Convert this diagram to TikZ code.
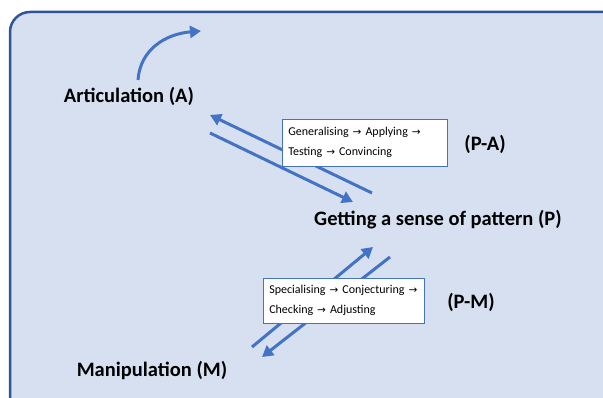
\documentclass[tikz,border=0pt]{standalone}
\usepackage{fontspec}
\setmainfont{Carlito}
\newfontfamily\arrowfont{DejaVu Sans}
\usetikzlibrary{arrows.meta}

\definecolor{panelfill}{HTML}{D6E0F1}
\definecolor{paneledge}{HTML}{2F5597}
\definecolor{flowblue}{HTML}{4472C4}
\newcommand{\nextstep}{{\arrowfont\fontsize{10.5}{20}\selectfont\char"2192}}

\begin{document}
\begin{tikzpicture}[x=1pt,y=-1pt,
    phase/.style={font=\fontsize{20.5}{24}\selectfont\bfseries,inner sep=0pt},
    stepbox/.style={draw=flowblue,line width=0.6pt,fill=white,anchor=north west,
        align=left,inner xsep=6pt,inner ysep=0pt,font=\fontsize{12}{20}\selectfont},
    flow/.style={draw=flowblue,line width=3pt,-{Triangle[length=11pt,width=12pt]}}]
    \useasboundingbox (0,0) rectangle (603,398);
    \clip (0,0) rectangle (603,398);
    \draw[fill=panelfill,draw=paneledge,line width=2.5pt,rounded corners=20pt] (10,12) rectangle (640,440);

    \node[phase] (art) at (129,96) {Articulation (A)};
    \node[phase] (pat) at (438,220) {Getting a sense of pattern (P)};
    \node[phase] (man) at (152,371) {Manipulation (M)};
    \node[phase] (pa) at (485,144) {(P-A)};
    \node[phase] (pm) at (471,302) {(P-M)};

    \coordinate (a1) at (372,193);
    \coordinate (a2) at (210,115);
    \coordinate (a3) at (210,133);
    \coordinate (a4) at (353,202);
    \coordinate (m1) at (252,347);
    \coordinate (m2) at (373,247);
    \coordinate (m3) at (390,257);
    \coordinate (m4) at (262,357);
    \coordinate (c1) at (138,80);
    \coordinate (c2) at (201,31);

    \draw[flow] (a1) -- (a2);
    \draw[flow] (a3) -- (a4);
    \draw[flow] (m1) -- (m2);
    \draw[flow] (m3) -- (m4);
    \draw[flow] (c1) .. controls (140,50) and (165,34) .. (c2);

    \node[stepbox,text width=153pt,minimum height=47pt] (pabox) at (282,119)
        {Generalising \nextstep{} Applying \nextstep{}\\Testing \nextstep{} Convincing};
    \node[stepbox,text width=149pt,minimum height=45pt] (pmbox) at (263,278)
        {Specialising \nextstep{} Conjecturing \nextstep{}\\Checking \nextstep{} Adjusting};
\end{tikzpicture}
\end{document}
